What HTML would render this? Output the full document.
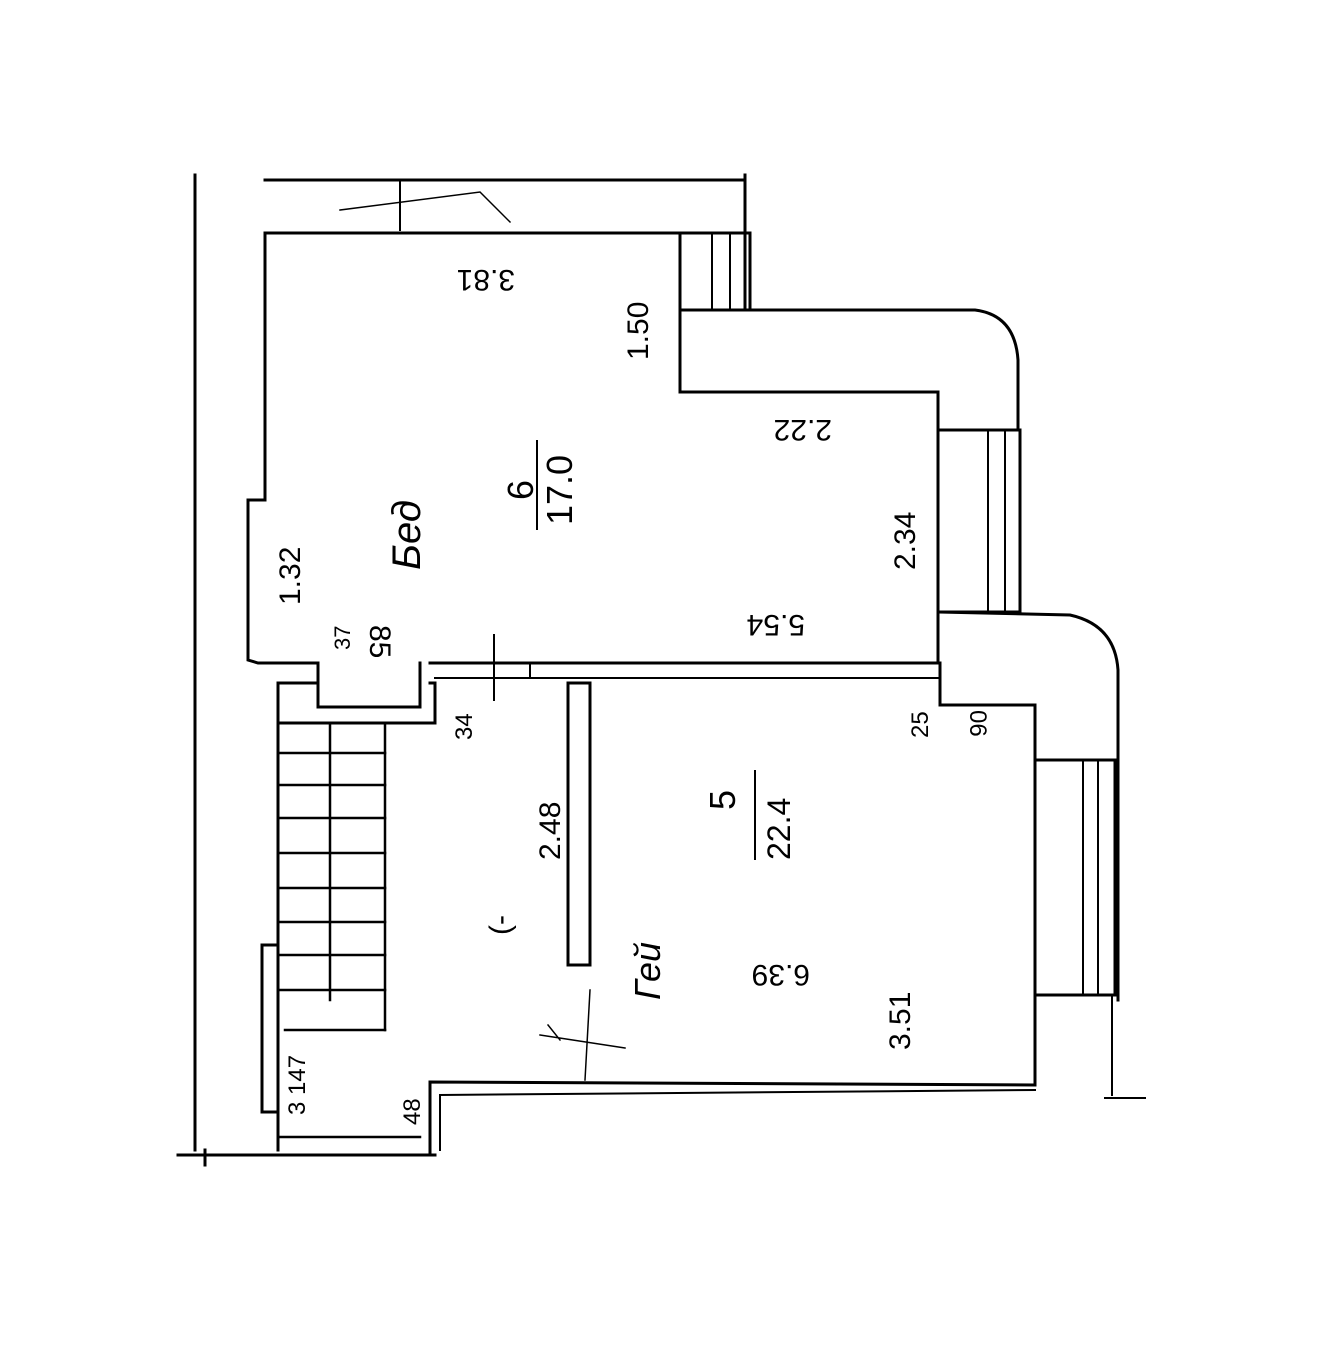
<!DOCTYPE html>
<html><head><meta charset="utf-8"><style>
html,body{margin:0;padding:0;background:#fff;}
svg{display:block}
text{font-family:"Liberation Sans",sans-serif;fill:#000}
</style></head><body>
<svg width="1325" height="1350" viewBox="0 0 1325 1350" xmlns="http://www.w3.org/2000/svg">
<g stroke="#000" stroke-width="3" fill="none" stroke-linecap="square">
<line x1="195" y1="175" x2="195" y2="1150"/>
<line x1="205" y1="1150" x2="205" y2="1165"/>
<line x1="178" y1="1155" x2="435" y2="1155"/>
<line x1="265" y1="180" x2="745" y2="180"/>
<line x1="745" y1="175" x2="745" y2="310"/>
<line x1="400" y1="182" x2="400" y2="230" stroke-width="2"/>
<path d="M340 210 L480 192 L510 222" stroke-width="1.5"/>
<path d="M265 233 L680 233"/>
<path d="M265 233 L265 500 L248 500 L248 660 L258 663 L318 663"/>
<path d="M430 663 L940 663"/>
<path d="M435 678 L940 678" stroke-width="2"/>
<rect x="680" y="233" width="70" height="77"/>
<line x1="712" y1="233" x2="712" y2="310" stroke-width="2"/>
<line x1="730" y1="233" x2="730" y2="310" stroke-width="2"/>
<path d="M680 310 L975 310 Q1015 315 1018 360 L1018 430"/>
<path d="M680 310 L680 392 L938 392 L938 663"/>
<rect x="938" y="430" width="82" height="182"/>
<line x1="988" y1="430" x2="988" y2="612" stroke-width="2"/>
<line x1="1005" y1="430" x2="1005" y2="612" stroke-width="2"/>
<path d="M940 612 L1070 615 Q1115 625 1118 670 L1118 1000"/>
<path d="M940 663 L940 705 L1035 705 L1035 1085 L430 1082 L430 1155"/>
<path d="M440 1095 L1035 1090" stroke-width="2"/>
<path d="M440 1095 L440 1150" stroke-width="2"/>
<rect x="1035" y="760" width="80" height="235"/>
<line x1="1083" y1="760" x2="1083" y2="995" stroke-width="2"/>
<line x1="1098" y1="760" x2="1098" y2="995" stroke-width="2"/>
<path d="M1112 995 L1112 1095 M1105 1098 L1145 1098" stroke-width="2"/>
<rect x="568" y="683" width="22" height="282"/>
<line x1="494" y1="635" x2="494" y2="700" stroke-width="2"/>
<line x1="530" y1="663" x2="530" y2="678" stroke-width="2"/>
<path d="M318 663 L318 707 L420 707 L420 663"/>
<path d="M278 683 L318 683 M278 683 L278 1150 M278 723 L435 723 L435 683 L430 683"/>
<g stroke-width="2.5">
<line x1="330" y1="723" x2="330" y2="1000"/>
<line x1="385" y1="723" x2="385" y2="1030"/>
<line x1="278" y1="753" x2="385" y2="753"/>
<line x1="278" y1="785" x2="385" y2="785"/>
<line x1="278" y1="818" x2="385" y2="818"/>
<line x1="278" y1="853" x2="385" y2="853"/>
<line x1="278" y1="888" x2="385" y2="888"/>
<line x1="278" y1="922" x2="385" y2="922"/>
<line x1="278" y1="955" x2="385" y2="955"/>
<line x1="278" y1="990" x2="385" y2="990"/>
<line x1="285" y1="1030" x2="385" y2="1030"/>
<line x1="278" y1="1137" x2="420" y2="1137"/>
</g>
<path d="M278 945 L262 945 L262 1112 L278 1112"/>
<path d="M590 990 L585 1080 M540 1035 L625 1048 M548 1025 L560 1040" stroke-width="1.5"/>
</g>
<g font-size="30">
<text transform="translate(515 270) rotate(180)">3.81</text>
<text transform="translate(648 360) rotate(-90)">1.50</text>
<text transform="translate(832 420) rotate(180)">2.22</text>
<text transform="translate(915 570) rotate(-90)">2.34</text>
<text transform="translate(805 615) rotate(180)">5.54</text>
<text transform="translate(300 605) rotate(-90)">1.32</text>
<text transform="translate(350 650) rotate(-90)" font-size="22">37</text>
<text transform="translate(370 625) rotate(90)">85</text>
<text transform="translate(472 740) rotate(-90)" font-size="24">34</text>
<text transform="translate(928 738) rotate(-90)" font-size="24">25</text>
<text transform="translate(970 710) rotate(90)" font-size="24">06</text>
<text transform="translate(560 860) rotate(-90)">2.48</text>
<text transform="translate(810 965) rotate(180)">6.39</text>
<text transform="translate(910 1050) rotate(-90)">3.51</text>
<text transform="translate(420 1125) rotate(-90)" font-size="24">48</text>
<text transform="translate(305 1115) rotate(-90)" font-size="24">3 147</text>
<text transform="translate(533 500) rotate(-90)" font-size="36">6</text>
<text transform="translate(572 525) rotate(-90)" font-size="36">17.0</text>
<line x1="537" y1="440" x2="537" y2="530" stroke="#000" stroke-width="2"/>
<text transform="translate(735 810) rotate(-90)" font-size="36">5</text>
<text transform="translate(790 860) rotate(-90)" font-size="32">22.4</text>
<line x1="755" y1="770" x2="755" y2="860" stroke="#000" stroke-width="2"/>
<text transform="translate(420 570) rotate(-90)" font-size="40" font-style="italic">Бед</text>
<text transform="translate(660 1000) rotate(-90)" font-size="36" font-style="italic">Гей</text>
<text transform="translate(510 935) rotate(-90)" font-size="30">(-</text>
</g>
</svg>
</body></html>
